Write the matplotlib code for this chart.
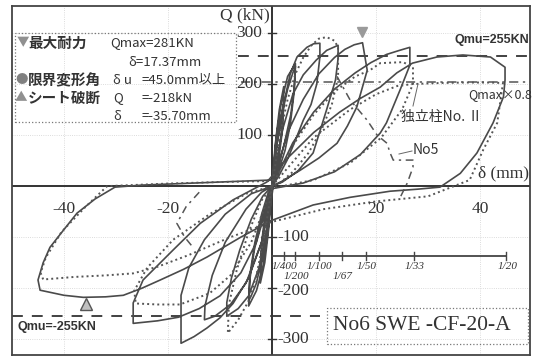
import matplotlib
matplotlib.use('Agg')
import matplotlib.pyplot as plt
from matplotlib.patches import Rectangle

W, H = 536, 360
plt.rcParams['font.family'] = ['Noto Sans CJK JP', 'DejaVu Sans']

## data =======================================================================
# No6 SWE-CF-20-A (solid), cycles in test order
c1_d = [0, 0.8, 1.6, 2.25, 2.0, 1.2, 0.3, -0.8, -1.6, -2.25, -2.0, -1.2, 0]
c1_q = [0, 75, 130, 160, 110, 45, 5, -75, -130, -160, -110, -45, 0]

c1b_d = [0, 0.6, 1.4, 2.25, 2.1, 1.5, 0.5, 0, -0.6, -1.4, -2.25, -2.1, -1.4, -0.5, 0]
c1b_q = [0, 80, 150, 195, 140, 80, 20, 0, -80, -150, -190, -135, -75, -18, 0]

c2_d = [0, 1.0, 2.0, 3.0, 4.0, 4.5, 4.2, 3.5, 2.5, 1.0, 0,
        -1.0, -2.0, -3.0, -4.0, -4.5, -4.2, -3.3, -2.0, -0.8, 0]
c2_q = [0, 85, 145, 190, 222, 235, 180, 120, 70, 22, 0,
        -85, -145, -190, -215, -225, -170, -110, -55, -15, 0]

c2b_d = [0, 0.8, 1.8, 3.0, 4.5, 4.3, 3.6, 2.4, 1.0, 0,
         -0.8, -1.8, -3.0, -4.5, -4.3, -3.4, -2.0, -0.8, 0]
c2b_q = [0, 95, 165, 215, 240, 195, 140, 85, 30, 0,
         -90, -160, -205, -235, -185, -125, -65, -20, 0]

c3_d = [0, 1.0, 2.0, 3.5, 4.8, 6.7, 8.0, 9.2, 9.2, 8.6, 7.5, 6.0, 4.5, 2.9, 1.2, 0,
        -1.0, -2.5, -4.5, -6.5, -8.7, -8.7, -7.8, -6.2, -4.0, -1.8, 0]
c3_q = [0, 85, 150, 220, 253, 272, 279, 280, 253, 200, 160, 129, 90, 51, 18, 0,
        -80, -160, -215, -240, -255, -228, -180, -125, -65, -20, 0]

c4_d = [0, 2.0, 4.0, 6.0, 8.5, 10.5, 12.7, 12.7, 12.2, 10.5, 7.9, 5.0, 2.0, 0,
        -2.0, -5.0, -8.0, -11.0, -13.0, -12.9, -11.5, -9.0, -5.0, -2.0, 0]
c4_q = [0, 110, 180, 218, 247, 266, 276, 250, 208, 150, 65, 30, 8, 0,
        -110, -190, -232, -255, -262, -235, -175, -110, -45, -12, 0]

c5_d = [0, 3.0, 6.0, 9.0, 12.0, 14.0, 15.8, 17.4, 18.3, 16.3, 14.5, 12.5, 9.0, 5.4, 2.0, 0,
        -2.0, -4.5, -7.5, -10.0, -12.5, -15.0, -17.5, -17.5, -16.0, -13.0, -9.0, -4.0, 0]
c5_q = [0, 105, 170, 220, 252, 268, 277, 281, 227, 155, 118, 84, 55, 31, 10, 0,
        -110, -180, -230, -258, -278, -295, -308, -214, -160, -105, -55, -15, 0]

c6_d = [0, 4.0, 8.0, 12.0, 16.0, 19.0, 22.0, 24.5, 26.5, 26.5, 24.6, 22.0, 20.8, 17.0, 12.0, 6.0, 0,
        -3.0, -6.0, -10.0, -14.0, -18.0, -22.0, -26.7, -26.7, -24.8, -19.0, -13.8, -7.5, -1.0]
c6_q = [0, 85, 145, 190, 222, 242, 258, 266, 272, 237, 188, 124, 104, 62, 28, 6, -5,
        -110, -170, -215, -240, -257, -264, -269, -229, -184, -125, -73, -27, 8]

c7_d = [-1.0, 3.0, 8.0, 13.0, 17.0, 20.8, 24.0, 27.0, 31.7, 36.7, 42.0, 44.8, 44.8, 44.5, 42.5,
        39.4, 36.2, 32.3, 28.0, 22.7, 15.0, 7.9, 0, -6.0, -12.5, -17.0, -21.5, -25.0, -28.6,
        -32.0, -36.3, -40.0, -44.6, -45.0, -44.0, -42.7, -40.0, -37.5, -34.0, -30.2, -25.0,
        -20.0, -10.0, 0]
c7_q = [8, 55, 105, 145, 172, 194, 222, 241, 253, 257, 253, 233, 208, 175, 124,
        65, 25, -2, -6, -10, -22, -37, -67, -100, -139, -163, -184, -200, -214,
        -217, -218, -214, -204, -184, -150, -120, -85, -53, -25, -2, 2,
        4, 8, 12]

# 独立柱No.II (dotted)
d1_d = [0, 1.5, 3.0, 4.5, 6.0, 7.5, 9.0, 10.5, 12.0, 12.7, 12.7, 11.5, 9.5, 7.0, 4.0, 1.5, 0,
        -1.5, -3.0, -4.5, -6.5, -8.5, -8.3, -6.8, -4.5, -2.0, 0]
d1_q = [0, 100, 170, 220, 252, 275, 289, 292, 285, 272, 214, 160, 110, 65, 28, 6, 0,
        -100, -175, -225, -262, -288, -232, -165, -90, -28, 0]

d2_d = [0, 4, 8, 12, 16, 18.8, 20.8, 25.2, 27.1, 27.1, 25.0, 21.0, 15.0, 8.0, 0,
        -4, -8, -12, -17.7, -22, -26.2, -26.5, -24, -19, -12, -5, 0]
d2_q = [0, 80, 140, 185, 215, 227, 241, 243, 233, 200, 150, 95, 45, 12, -4,
        -110, -175, -210, -232, -232, -230, -205, -160, -105, -55, -15, 0]

d3_d = [0, 8, 15, 20, 24, 27, 32, 37, 42, 44.4, 43.3, 40.6, 38.0, 30, 20, 10, 0,
        -8, -16, -22, -26.7, -32, -38, -44, -44.5, -43.5, -40.5, -36, -31.7, -20, -10, 0]
d3_q = [0, 95, 150, 180, 196, 200, 202, 203, 203, 202, 124, 71, 12, -20, -30, -45, -70,
        -100, -135, -158, -171, -175, -178, -183, -170, -140, -90, -42, 0, 5, 8, 10]

# No5 (dash-dot)
n1_d = [12.5, 15.0, 18.3, 20.2, 22.1, 22.7, 23.3, 27.1, 27.1, 26.0, 24.5]
n1_q = [215, 169, 129, 100, 84, 65, 51, 51, 37, 6, -25]
n2_d = [-14.0, -16.5, -18.3, -16.8, -15.2]
n2_q = [-12, -40, -73, -100, -120]

# reference levels / drift scale
qmu = 255
q08 = 205
drift_mm = [2.25, 4.5, 9.0, 13.4, 18.0, 27.3, 45.0]
drift_lab = ['1/400', '1/200', '1/100', '1/67', '1/50', '1/33', '1/20']
yticks = [300, 200, 100, -100, -200, -300]
xticks = [-40, -20, 20, 40]
# =============================================================================

fig = plt.figure(figsize=(W / 100, H / 100), dpi=100)
ax = fig.add_axes([12 / W, 1 - 355 / H, 518 / W, 349 / H])
ax.set_xlim(-50, 49.6)
ax.set_ylim(-331, 353)
ax.set_xticks([])
ax.set_yticks([])
for s in ax.spines.values():
    s.set_color('#444444')
    s.set_linewidth(1.3)

ink = '#4a4a4a'

# faint grid
for x in xticks:
    ax.axvline(x, color='#d0d0d0', lw=0.6, ls=':', zorder=0)
for y in yticks:
    ax.axhline(y, color='#d0d0d0', lw=0.6, ls=':', zorder=0)

# axes lines
ax.axhline(0, color='#333333', lw=1.4)
ax.axvline(0, color='#333333', lw=1.4)
for y in yticks:
    ax.plot([-0.8, 0.8], [y, y], color='#333333', lw=1.0)

# reference lines
ax.plot([-6.5, 49.6], [qmu, qmu], color='#333333', lw=1.3, ls=(0, (6, 5)))
ax.plot([-50, 9.2], [-qmu, -qmu], color='#333333', lw=1.3, ls=(0, (6, 5)))
ax.plot([-6.0, 49.6], [q08, q08], color='#555555', lw=1.1, ls=(0, (6, 3, 1.5, 3)))

# hysteresis curves
solid_d = c1_d + c1b_d + c2_d + c2b_d + c3_d + c4_d + c5_d + c6_d + c7_d
solid_q = c1_q + c1b_q + c2_q + c2b_q + c3_q + c4_q + c5_q + c6_q + c7_q
ax.plot(solid_d, solid_q, color=ink, lw=1.2)
for dd, qq in [(d1_d, d1_q), (d2_d, d2_q), (d3_d, d3_q)]:
    ax.plot(dd, qq, color='#555555', lw=1.4, ls=(0, (1, 1.6)))
for dd, qq in [(n1_d, n1_q), (n2_d, n2_q)]:
    ax.plot(dd, qq, color='#555555', lw=1.1, ls=(0, (5, 3, 1.5, 3)))

# markers
ax.plot(17.37, 302, marker='v', ms=7, color='#9a9a9a')
ax.plot(-35.8, -232, marker='^', ms=8, mfc='#c0c0c0', mec='#555555')

# drift scale
ax.plot([0, 45], [-137, -137], color='#444444', lw=1.3)
for x, lab in zip(drift_mm, drift_lab):
    ax.plot([x, x], [-130, -144], color='#444444', lw=1.0)
    yy = -178 if lab in ('1/200', '1/67') else -158
    ax.text(x + 0.2, yy, lab, fontsize=8, style='italic', family='Liberation Serif',
            ha='center', va='center', color='#333333')

# tick labels
for y in yticks:
    if y > 0:
        ax.text(-1.9, y, str(y), ha='right', va='center', fontsize=12.5,
                family='Liberation Serif', color='#333333')
    else:
        yy = y - 6 if y == -200 else y
        ax.text(1.0, yy, str(y), ha='left', va='center', fontsize=12.5,
                family='Liberation Serif', color='#333333')
for x in xticks:
    ax.text(x, -44, str(x), ha='center', va='center', fontsize=12.5,
            family='Liberation Serif', color='#333333')
ax.text(-0.5, 335, 'Q (kN)', ha='right', va='center', fontsize=12.5,
        family='Liberation Serif', color='#333333')
ax.text(39.6, 25, 'δ (mm)', ha='left', va='center', fontsize=12.5,
        family='Liberation Serif', color='#333333')


def ftext(x, y, s, **kw):
    kw.setdefault('color', '#333333')
    kw.setdefault('va', 'center')
    fig.text(x / W, 1 - y / H, s, **kw)


def fbox(x0, y0, x1, y1):
    fig.patches.append(Rectangle((x0 / W, 1 - y1 / H), (x1 - x0) / W, (y1 - y0) / H,
                                 transform=fig.transFigure, fill=False,
                                 ls=':', lw=0.9, ec='#777777'))


# info box
fbox(15, 33, 236, 122)
ftext(17, 43, '▼', fontsize=9, color='#909090')
ftext(28, 43, '最大耐力', fontsize=10.5, weight='bold')
ftext(110, 43, 'Qmax=281KN', fontsize=9.5)
ftext(128, 62, 'δ=17.37mm', fontsize=9.5)
ftext(15, 80, '●', fontsize=9, color='#808080')
ftext(28, 80, '限界変形角', fontsize=10.5, weight='bold')
ftext(113, 80, 'δ u', fontsize=9.5)
ftext(141, 80, '=45.0mm以上', fontsize=9.5)
ftext(15, 98, '▲', fontsize=9, color='#909090')
ftext(28, 98, 'シート破断', fontsize=10.5, weight='bold')
ftext(113, 98, 'Q', fontsize=9.5)
ftext(142, 98, '=-218kN', fontsize=9.5)
ftext(113, 116, 'δ', fontsize=9.5)
ftext(142, 116, '=-35.70mm', fontsize=9.5)

# labels
ftext(529, 40, 'Qmu=255KN', fontsize=9, weight='bold', family='Liberation Sans', ha='right')
ftext(17, 327, 'Qmu=-255KN', fontsize=9, weight='bold', family='Liberation Sans')
ftext(468, 95, 'Qmax×0.8', fontsize=9)
ftext(401, 117, '独立柱No. Ⅱ', fontsize=10)
ftext(413, 150, 'No5', fontsize=10)
fig.add_artist(plt.Line2D([413 / W, 418 / W], [1 - 106 / H, 1 - 84 / H], color='#666666', lw=0.7))
fig.add_artist(plt.Line2D([399 / W, 412 / W], [1 - 154 / H, 1 - 151 / H], color='#666666', lw=0.7))

# title box
fbox(327, 308, 528, 344)
ftext(333, 326, 'No6 SWE -CF-20-A', fontsize=15.5, family='Liberation Serif')

plt.savefig('out.png', dpi=100)
plt.close()
